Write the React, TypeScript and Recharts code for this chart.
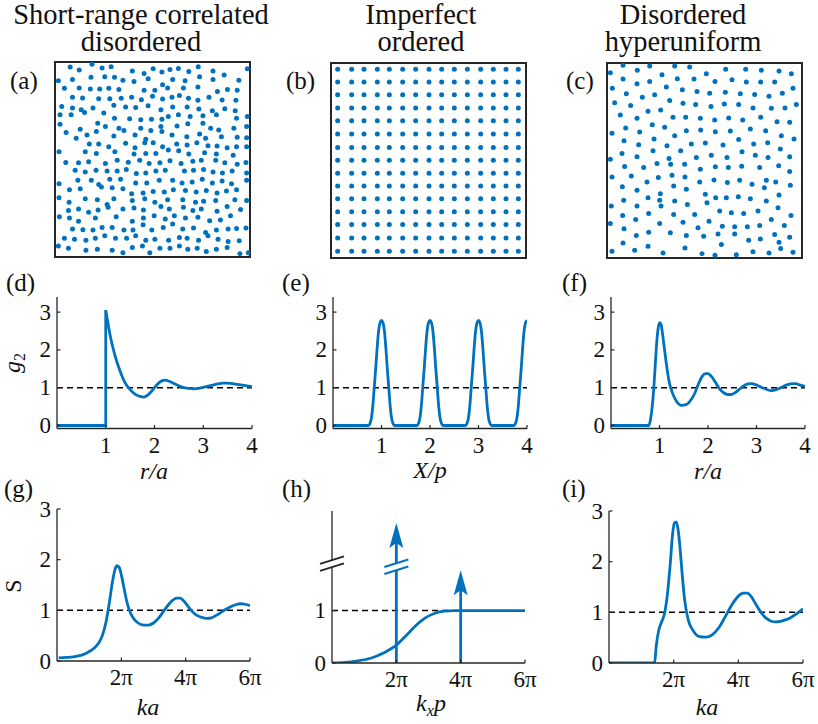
import React from "react";
import {
	Line,
	LineChart,
	ReferenceArea,
	ReferenceDot,
	ReferenceLine,
	Scatter,
	ScatterChart,
	XAxis,
	YAxis,
} from "recharts";

const BLUE = "#0072BD";
const INK = "#262626";
const FONT = "Liberation Serif, DejaVu Serif, serif";

// (a) short-range correlated disordered pattern, sample plane 0..58
const aPoints = [
	[4.5, 56.5], [7.2, 55.6], [11.0, 57.3], [14.0, 56.2], [16.7, 56.6], [23.0, 55.3], [26.5, 54.6], [29.2, 56.0],
	[31.8, 55.0], [34.2, 55.8], [36.7, 56.1], [39.8, 55.2], [42.6, 56.6], [47.0, 55.3], [50.3, 54.1], [57.2, 56.0],
	[1.0, 52.4], [5.2, 52.8], [10.7, 53.5], [14.8, 53.6], [17.7, 53.5], [20.2, 52.6], [23.5, 52.2], [27.7, 53.0],
	[32.0, 51.2], [35.0, 52.8], [38.7, 52.4], [43.0, 53.6], [47.0, 52.8], [54.7, 52.6],
	[2.8, 50.2], [7.2, 50.3], [10.5, 50.0], [13.3, 50.0], [16.0, 50.2], [19.0, 49.8], [26.5, 49.6], [29.7, 49.6],
	[33.5, 50.3], [38.2, 50.3], [42.5, 50.6], [48.3, 49.2], [51.3, 49.8], [54.2, 49.6],
	[5.2, 47.5], [8.2, 47.3], [13.0, 47.1], [16.3, 47.1], [19.7, 47.2], [22.8, 47.5], [25.7, 46.8], [29.0, 47.8],
	[32.0, 47.0], [34.8, 47.5], [37.0, 48.0], [39.7, 47.2], [42.5, 46.6], [45.8, 47.5], [49.7, 46.7], [53.8, 46.6],
	[2.0, 44.8], [5.2, 44.3], [7.8, 43.8], [11.3, 44.3], [17.5, 45.1], [21.0, 44.6], [24.0, 44.5], [27.7, 45.0],
	[31.5, 43.8], [35.0, 44.6], [39.3, 44.6], [42.8, 44.0], [46.8, 43.5], [50.5, 44.1], [53.6, 43.5],
	[1.5, 42.3], [4.8, 42.3], [8.8, 43.0], [14.5, 42.8], [17.7, 41.3], [22.2, 41.1], [25.5, 40.8], [28.7, 41.0],
	[31.8, 41.0], [33.7, 41.8], [36.7, 42.3], [40.2, 41.8], [44.0, 42.0], [48.0, 42.3], [54.0, 41.3], [57.2, 41.8],
	[1.5, 39.5], [7.5, 38.0], [12.7, 39.8], [15.0, 38.8], [19.0, 38.3], [25.5, 38.3], [28.5, 37.6], [31.5, 38.8],
	[36.3, 39.0], [39.5, 39.6], [44.0, 39.8], [46.3, 38.3], [48.7, 37.8], [53.2, 38.3], [57.0, 38.8],
	[3.3, 37.0], [6.3, 35.3], [9.5, 36.3], [12.3, 37.3], [17.5, 36.0], [20.5, 37.6], [23.8, 36.3], [27.0, 35.0],
	[31.8, 37.3], [34.8, 36.3], [39.2, 35.8], [43.0, 36.6], [44.8, 35.3], [49.5, 35.8], [54.2, 35.6], [57.0, 35.5],
	[10.2, 33.6], [13.0, 33.6], [16.0, 32.8], [21.0, 33.8], [23.8, 32.5], [26.7, 34.0], [29.2, 34.0], [32.0, 32.8],
	[36.2, 33.6], [39.3, 33.3], [42.2, 34.0], [45.5, 33.1], [48.2, 33.0], [51.2, 32.5], [54.0, 32.8], [57.0, 32.8],
	[1.2, 31.3], [9.0, 31.3], [12.3, 30.8], [17.8, 31.3], [23.5, 30.6], [27.0, 30.8], [30.0, 30.8], [33.7, 31.8],
	[36.8, 31.6], [39.8, 30.6], [44.5, 31.0], [48.0, 30.6], [53.0, 30.3],
	[3.2, 28.1], [7.0, 28.0], [10.0, 28.3], [15.0, 27.8], [18.5, 28.8], [21.8, 28.2], [25.2, 28.8], [28.0, 27.8],
	[31.2, 28.0], [34.2, 28.6], [37.5, 27.8], [41.0, 28.5], [43.5, 28.8], [47.8, 28.8], [50.5, 28.0], [54.2, 27.6],
	[56.8, 28.1],
	[6.0, 25.8], [9.0, 25.3], [12.2, 25.8], [15.5, 25.6], [18.5, 25.6], [21.2, 26.0], [24.2, 24.8], [27.0, 25.0],
	[30.0, 25.6], [32.8, 25.8], [38.5, 25.6], [41.2, 25.8], [44.2, 26.0], [47.0, 25.3], [49.8, 25.0], [52.7, 25.6],
	[57.0, 25.0],
	[1.2, 21.8], [6.8, 22.8], [10.8, 22.8], [13.0, 21.6], [16.3, 23.1], [19.5, 23.1], [24.0, 22.0], [27.3, 22.0],
	[31.0, 22.8], [35.0, 22.8], [37.8, 22.0], [40.8, 22.3], [43.8, 23.1], [46.8, 22.0], [49.7, 22.6], [52.5, 21.8],
	[57.0, 22.8],
	[4.3, 20.0], [7.5, 20.3], [13.8, 20.8], [17.0, 20.6], [20.2, 20.3], [22.8, 18.8], [26.2, 19.0], [29.2, 19.5],
	[32.5, 19.3], [35.2, 20.0], [38.8, 19.8], [42.0, 19.3], [45.0, 19.8], [48.2, 19.0], [51.0, 19.6], [54.0, 20.0],
	[1.2, 17.6], [4.2, 16.3], [9.0, 17.3], [12.6, 17.0], [15.5, 15.6], [17.5, 17.3], [23.0, 16.8], [26.7, 17.3],
	[29.7, 16.3], [33.5, 17.0], [38.0, 17.0], [41.8, 16.3], [44.2, 16.6], [47.8, 16.8], [53.5, 17.0], [57.0, 16.8],
	[4.0, 13.8], [7.0, 14.3], [10.0, 13.3], [12.8, 14.0], [15.8, 14.8], [20.2, 14.3], [23.5, 14.6], [26.3, 14.0],
	[31.5, 15.0], [34.0, 14.3], [38.2, 14.8], [41.0, 13.8], [43.5, 14.3], [48.2, 13.6], [51.2, 15.0], [55.2, 14.1],
	[1.3, 12.0], [4.3, 11.6], [7.0, 10.6], [12.0, 11.6], [18.2, 12.0], [23.0, 10.6], [26.3, 11.6], [29.5, 12.3],
	[32.8, 11.3], [35.5, 12.3], [38.8, 11.6], [42.5, 11.8], [46.0, 10.8], [49.2, 11.0], [52.2, 12.3],
	[5.2, 8.3], [8.3, 8.1], [11.3, 8.0], [14.0, 8.8], [17.0, 8.8], [20.5, 8.0], [23.2, 8.0], [26.2, 9.6],
	[28.8, 8.0], [32.2, 8.8], [35.0, 9.8], [38.0, 8.3], [41.2, 8.6], [44.8, 7.3], [48.0, 8.0], [51.5, 8.3],
	[54.0, 8.5], [56.8, 8.6],
	[2.8, 5.6], [5.8, 5.3], [9.2, 5.0], [12.0, 5.6], [14.8, 6.3], [18.0, 5.6], [21.3, 5.6], [24.0, 6.3],
	[27.0, 5.0], [29.7, 5.3], [33.8, 5.0], [37.0, 5.8], [39.3, 5.6], [42.7, 5.0], [45.5, 6.3], [48.5, 5.3],
	[51.5, 4.6], [54.8, 4.8],
	[1.0, 3.3], [4.0, 2.6], [9.2, 2.0], [12.6, 2.3], [17.0, 2.0], [20.2, 1.3], [23.0, 2.8], [26.0, 3.3],
	[28.2, 1.3], [31.2, 2.6], [34.2, 2.6], [37.0, 3.3], [39.5, 2.3], [42.3, 2.6], [45.0, 1.6], [48.0, 2.3],
	[51.2, 2.8], [55.0, 1.0], [57.5, 1.3],
];

// (b) imperfect square lattice: site columns and rows
const bColumns = [2.0, 6.2, 9.9, 13.9, 17.5, 21.5, 25.4, 29.4, 33.2, 37.0, 40.9, 44.9, 48.7, 52.5, 56.2];
const bRows = [56.3, 52.5, 48.7, 44.8, 41.0, 37.0, 33.0, 29.2, 25.3, 21.5, 17.7, 13.8, 10.0, 6.0, 2.0];

// (c) disordered hyperuniform pattern
const cPoints = [
	[1.0, 55.3], [4.8, 57.5], [9.1, 56.0], [12.8, 57.3], [16.5, 54.7], [20.3, 57.3], [24.8, 57.0], [29.8, 55.0],
	[35.6, 56.3], [41.6, 56.3], [46.3, 56.0], [51.6, 55.8], [55.3, 55.0],
	[4.8, 53.4], [9.0, 52.0], [12.8, 52.7], [21.1, 53.5], [26.1, 53.4], [32.4, 52.7], [37.5, 53.2], [41.8, 52.5],
	[46.1, 52.5], [50.3, 52.5],
	[1.6, 50.7], [5.8, 49.0], [10.6, 48.0], [14.3, 48.7], [17.8, 51.0], [22.6, 50.2], [27.0, 49.7], [30.8, 49.2],
	[35.5, 49.5], [40.0, 49.0], [44.3, 48.8], [48.6, 48.3], [52.6, 49.2], [55.8, 50.7],
	[2.3, 46.3], [7.1, 45.5], [12.3, 43.8], [16.1, 44.2], [18.8, 47.0], [22.8, 46.2], [26.6, 45.8], [31.2, 45.2],
	[35.2, 46.0], [39.5, 45.8], [43.8, 44.8], [49.3, 44.7], [53.4, 44.8], [56.8, 45.8],
	[4.0, 42.7], [9.0, 41.7], [13.6, 39.8], [19.8, 42.0], [23.6, 42.0], [28.0, 41.7], [32.3, 41.2], [36.5, 41.8],
	[40.7, 41.2], [46.1, 42.0], [51.0, 40.7], [54.8, 40.5],
	[1.5, 37.2], [5.6, 38.8], [9.8, 37.6], [14.1, 35.5], [17.3, 39.0], [20.3, 36.5], [23.8, 38.0], [28.1, 38.2],
	[32.5, 37.7], [37.0, 37.9], [43.0, 38.5], [47.6, 38.0], [52.3, 36.5], [56.1, 35.5],
	[5.1, 35.0], [9.5, 33.8], [13.8, 32.0], [18.0, 33.5], [25.3, 34.0], [29.5, 34.3], [34.8, 33.7], [39.5, 35.4],
	[44.0, 34.0], [48.2, 34.4], [52.0, 32.5],
	[1.0, 29.5], [4.5, 31.2], [9.0, 30.2], [18.6, 29.7], [22.1, 32.0], [26.8, 30.0], [31.3, 30.7], [36.0, 30.0],
	[40.5, 31.7], [44.5, 30.7], [48.3, 30.0], [54.8, 30.2],
	[5.3, 27.3], [11.0, 27.0], [15.0, 28.2], [19.1, 28.0], [23.3, 28.0], [28.0, 26.5], [32.5, 27.2], [36.4, 27.0],
	[40.4, 27.4], [45.8, 27.0], [51.5, 27.5], [54.8, 25.8],
	[1.5, 24.2], [7.3, 24.5], [12.0, 22.7], [15.4, 24.0], [19.5, 24.7], [23.4, 24.2], [27.8, 22.7], [32.1, 23.3],
	[36.1, 22.5], [39.8, 23.2], [43.5, 22.0], [47.8, 23.2], [50.6, 22.7],
	[4.6, 21.3], [9.0, 20.2], [12.3, 18.0], [16.0, 19.2], [20.0, 21.5], [23.8, 20.5], [29.5, 19.0], [32.6, 18.0],
	[35.8, 18.0], [39.4, 18.3], [43.0, 17.7], [47.2, 21.0], [51.6, 18.8], [55.0, 21.7],
	[5.0, 17.2], [9.0, 15.5], [15.8, 17.2], [20.3, 17.0], [24.1, 16.0], [30.0, 16.5], [33.8, 14.0], [37.3, 13.5],
	[41.0, 13.3], [45.3, 14.0], [47.8, 17.0], [51.3, 15.0],
	[1.3, 15.5], [4.7, 12.7], [12.5, 13.3], [16.2, 15.5], [20.0, 13.0], [26.3, 13.0], [55.2, 12.7],
	[1.0, 10.3], [5.1, 8.7], [8.6, 11.5], [15.8, 10.3], [22.8, 10.7], [27.3, 9.0], [30.6, 11.0], [34.6, 9.5],
	[38.3, 9.3], [42.1, 9.3], [45.8, 9.7], [49.3, 11.5], [53.2, 9.7],
	[8.8, 6.7], [12.5, 7.7], [19.0, 7.5], [23.8, 6.7], [29.0, 6.5], [33.3, 7.2], [38.3, 7.2], [42.5, 5.3],
	[46.0, 5.7], [50.3, 7.0], [54.8, 6.2],
	[4.8, 4.5], [12.3, 3.5], [34.3, 4.0], [51.6, 4.7],
	[1.5, 2.0], [8.3, 2.3], [16.8, 1.5], [23.4, 3.0], [28.5, 1.3], [32.4, 0.8], [38.8, 1.0], [43.8, 1.9],
	[48.6, 1.5], [52.1, 2.8], [55.8, 1.7],
];

// (d) g2(r) of the short-range correlated pattern
const dStepR = [0, 1, 1];
const dStepG = [0, 0, 3.05];
const dTailR = [1, 1.04, 1.08, 1.13, 1.19, 1.25, 1.32, 1.4, 1.5, 1.6, 1.7, 1.78, 1.86, 1.95, 2.05, 2.15, 2.22, 2.3,
	2.4, 2.5, 2.6, 2.7, 2.8, 2.9, 3.0, 3.1, 3.2, 3.3, 3.4, 3.5, 3.6, 3.7, 3.8, 3.9, 4.0];
const dTailG = [3.05, 2.75, 2.45, 2.15, 1.85, 1.6, 1.35, 1.12, 0.95, 0.83, 0.77, 0.75, 0.8, 0.92, 1.08, 1.18, 1.2, 1.17,
	1.11, 1.05, 1.0, 0.98, 0.97, 0.98, 1.01, 1.04, 1.07, 1.1, 1.12, 1.12, 1.11, 1.09, 1.07, 1.05, 1.03];

// (e) g2(X) of the imperfect lattice
const eX = [0,
	0.73, 0.78, 0.82, 0.85, 0.88, 0.91, 0.94, 0.97, 1.0, 1.03, 1.06, 1.09, 1.12, 1.15, 1.18, 1.22, 1.27,
	1.73, 1.78, 1.82, 1.85, 1.88, 1.91, 1.94, 1.97, 2.0, 2.03, 2.06, 2.09, 2.12, 2.15, 2.18, 2.22, 2.27,
	2.73, 2.78, 2.82, 2.85, 2.88, 2.91, 2.94, 2.97, 3.0, 3.03, 3.06, 3.09, 3.12, 3.15, 3.18, 3.22, 3.27,
	3.73, 3.78, 3.82, 3.85, 3.88, 3.91, 3.94, 3.97, 4.0];
const eG = [0,
	0, 0.12, 0.5, 1.0, 1.5, 2.05, 2.5, 2.72, 2.78, 2.72, 2.5, 2.05, 1.5, 1.0, 0.5, 0.12, 0,
	0, 0.12, 0.5, 1.0, 1.5, 2.05, 2.5, 2.72, 2.78, 2.72, 2.5, 2.05, 1.5, 1.0, 0.5, 0.12, 0,
	0, 0.12, 0.5, 1.0, 1.5, 2.05, 2.5, 2.72, 2.78, 2.72, 2.5, 2.05, 1.5, 1.0, 0.5, 0.12, 0,
	0, 0.12, 0.5, 1.0, 1.5, 2.05, 2.5, 2.72, 2.78];

// (f) g2(r) of the hyperuniform pattern
const fR = [0, 0.78, 0.82, 0.85, 0.88, 0.91, 0.94, 0.97, 1.0, 1.03, 1.06, 1.1, 1.15, 1.2, 1.27, 1.35, 1.45, 1.55,
	1.65, 1.73, 1.81, 1.88, 1.95, 2.0, 2.07, 2.15, 2.23, 2.32, 2.4, 2.48, 2.56, 2.65, 2.74, 2.82, 2.9, 3.0, 3.1,
	3.2, 3.3, 3.4, 3.5, 3.6, 3.7, 3.8, 3.9, 4.0];
const fG = [0, 0, 0.2, 0.5, 0.95, 1.55, 2.15, 2.55, 2.72, 2.68, 2.45, 2.05, 1.55, 1.15, 0.85, 0.64, 0.53, 0.55,
	0.68, 0.86, 1.12, 1.3, 1.37, 1.37, 1.3, 1.15, 0.98, 0.87, 0.82, 0.82, 0.87, 0.96, 1.05, 1.1, 1.11, 1.07, 1.01,
	0.96, 0.92, 0.95, 1.0, 1.06, 1.1, 1.11, 1.07, 1.03];

// (g) S(k), k in units of pi/a
const gK = [0.05, 0.3, 0.6, 0.9, 1.15, 1.3, 1.42, 1.52, 1.62, 1.72, 1.8, 1.87, 1.94, 2.0, 2.08, 2.16, 2.25, 2.35,
	2.5, 2.7, 2.85, 3.0, 3.15, 3.3, 3.45, 3.6, 3.72, 3.82, 3.92, 4.05, 4.2, 4.35, 4.5, 4.65, 4.8, 4.95, 5.1, 5.25,
	5.4, 5.55, 5.7, 5.85, 6.0];
const gS = [0.06, 0.07, 0.09, 0.15, 0.25, 0.36, 0.52, 0.76, 1.12, 1.55, 1.8, 1.88, 1.84, 1.7, 1.45, 1.2, 1.0, 0.87,
	0.76, 0.71, 0.71, 0.75, 0.84, 0.97, 1.1, 1.2, 1.24, 1.24, 1.2, 1.1, 0.98, 0.9, 0.86, 0.84, 0.85, 0.9, 0.96, 1.02,
	1.07, 1.11, 1.13, 1.12, 1.09];

// (h) S(kx), diffuse part plus Bragg peaks
const hK = [0, 0.4, 0.8, 1.2, 1.6, 2.0, 2.3, 2.6, 2.9, 3.2, 3.5, 3.8, 4.1, 6.0];
const hS = [0, 0.01, 0.04, 0.09, 0.19, 0.34, 0.52, 0.71, 0.86, 0.95, 0.99, 1.0, 1.0, 1.0];
const hPeakK = [2, 4];
const hPeakTop = [2.67, 1.77];
const hBreakS = 1.85;

// (i) S(k) of the hyperuniform pattern
const iK = [0, 1.41, 1.46, 1.54, 1.62, 1.72, 1.82, 1.9, 1.96, 2.02, 2.08, 2.14, 2.2, 2.27, 2.34, 2.45, 2.6, 2.8,
	3.0, 3.2, 3.4, 3.6, 3.8, 4.0, 4.15, 4.28, 4.4, 4.55, 4.7, 4.85, 5.0, 5.15, 5.3, 5.45, 5.6, 5.75, 5.9, 6.0];
const iS = [0, 0, 0.33, 0.65, 0.8, 0.98, 1.44, 2.0, 2.5, 2.76, 2.78, 2.62, 2.25, 1.7, 1.24, 0.85, 0.64, 0.52,
	0.51, 0.56, 0.7, 0.92, 1.15, 1.32, 1.38, 1.38, 1.31, 1.15, 1.0, 0.89, 0.83, 0.81, 0.82, 0.85, 0.89, 0.95, 1.02, 1.07];

const rTicks = [1, 2, 3, 4];
const gTicks = [0, 1, 2, 3];
const kTicks = [2, 4, 6];
const kTickLabels = ["2π", "4π", "6π"];

const titles = [
	{ x: 141, lines: ["Short-range correlated", "disordered"] },
	{ x: 421, lines: ["Imperfect", "ordered"] },
	{ x: 683, lines: ["Disordered", "hyperuniform"] },
];

type Pt = { x: number; y: number };
const zip = (xs: number[], ys: number[]): Pt[] => xs.map((x, i) => ({ x, y: ys[i] }));
const toPts = (arr: number[][]): Pt[] => arr.map(([x, y]) => ({ x, y }));
const lattice: Pt[] = bRows.flatMap((y) => bColumns.map((x) => ({ x, y })));

const ML = 48;
const MR = 14;
const MT = 16;
const MB = 36;
const TICK_FS = 23;

const serif = { fontFamily: FONT };

const xTick = (fmt: (v: number) => string) => (p: any) => (
	<g>
		<line x1={p.x} x2={p.x} y1={p.y} y2={p.y - 3.5} stroke={INK} strokeWidth={1.2} />
		<text x={p.x} y={p.y + 24} textAnchor="middle" style={serif} fontSize={TICK_FS} fill="#111">
			{fmt(p.payload.value)}
		</text>
	</g>
);

const yTick = (p: any) => (
	<g>
		<line x1={p.x} x2={p.x + 3.5} y1={p.y} y2={p.y} stroke={INK} strokeWidth={1.2} />
		<text x={p.x - 6} y={p.y + 7.5} textAnchor="end" style={serif} fontSize={TICK_FS} fill="#111">
			{p.payload.value}
		</text>
	</g>
);

interface LinePanelProps {
	left: number;
	top: number;
	width: number;
	height: number;
	xDomain: [number, number];
	yDomain: [number, number];
	xTicks: number[];
	yTicks: number[];
	xFmt: (v: number) => string;
	children: React.ReactNode;
}

const LinePanel = ({ left, top, width, height, xDomain, yDomain, xTicks, yTicks, xFmt, children }: LinePanelProps) => (
	<div style={{ position: "absolute", left: left - ML, top: top - MT }}>
		<LineChart width={ML + width + MR} height={MT + height + MB} margin={{ top: MT, right: MR, bottom: 0, left: 0 }}>
			<XAxis
				type="number"
				dataKey="x"
				domain={xDomain}
				ticks={xTicks}
				interval={0}
				allowDataOverflow
				height={MB}
				tickSize={0}
				tickMargin={0}
				tickLine={false}
				axisLine={{ stroke: INK, strokeWidth: 1.3 }}
				tick={xTick(xFmt)}
			/>
			<YAxis
				type="number"
				dataKey="y"
				domain={yDomain}
				ticks={yTicks}
				interval={0}
				allowDataOverflow
				width={ML}
				tickSize={0}
				tickMargin={0}
				tickLine={false}
				axisLine={{ stroke: INK, strokeWidth: 1.3 }}
				tick={yTick}
			/>
			{children}
		</LineChart>
	</div>
);

const DotPanel = ({ left, top, size, span, points }: { left: number; top: number; size: number; span: [number, number]; points: Pt[] }) => {
	const pad = 3;
	return (
		<div style={{ position: "absolute", left: left - pad, top: top - pad }}>
			<ScatterChart width={size + 2 * pad} height={size + 2 * pad} margin={{ top: pad, right: pad, bottom: pad, left: pad }}>
				<XAxis type="number" dataKey="x" domain={[0, span[0]]} hide allowDataOverflow />
				<YAxis type="number" dataKey="y" domain={[0, span[1]]} hide allowDataOverflow />
				<Scatter
					data={points}
					fill={BLUE}
					isAnimationActive={false}
					shape={(p: any) => <circle cx={p.cx} cy={p.cy} r={2.5} fill={BLUE} />}
				/>
				<ReferenceArea x1={0} x2={span[0]} y1={0} y2={span[1]} fill="none" fillOpacity={0} stroke={INK} strokeWidth={2} ifOverflow="visible" />
			</ScatterChart>
		</div>
	);
};

const dashed = <ReferenceLine y={1} stroke="#000" strokeWidth={1.5} strokeDasharray="6 4" />;

const curve = (data: Pt[], key: string, type: "monotone" | "linear" = "monotone") => (
	<Line key={key} data={data} dataKey="y" type={type} stroke={BLUE} strokeWidth={2.8} dot={false} isAnimationActive={false} />
);

// upward arrow head with a notched base, tip at (cx, cy)
const arrowHead = (p: any) => (
	<path d={`M${p.cx},${p.cy} L${p.cx + 7},${p.cy + 25} L${p.cx},${p.cy + 20} L${p.cx - 7},${p.cy + 25} Z`} fill={BLUE} />
);

// axis break: white gap between two slanted strokes
const breakMark = (color: string) => (p: any) => (
	<g>
		<path d={`M${p.cx - 11},${p.cy + 1} L${p.cx + 11},${p.cy - 6} L${p.cx + 11},${p.cy + 1} L${p.cx - 11},${p.cy + 8} Z`} fill="#fff" />
		<line x1={p.cx - 12} y1={p.cy + 1} x2={p.cx + 12} y2={p.cy - 6.5} stroke={color} strokeWidth={2} />
		<line x1={p.cx - 12} y1={p.cy + 8} x2={p.cx + 12} y2={p.cy + 0.5} stroke={color} strokeWidth={2} />
	</g>
);

const num = (v: number) => String(v);
const piFmt = (v: number) => kTickLabels[kTicks.indexOf(v)] ?? "";

export default function App() {
	return (
		<div style={{ position: "absolute", left: 0, top: 0, width: 818, height: 724, background: "#fff" }}>
			<DotPanel left={55} top={62} size={195} span={[58, 58]} points={toPts(aPoints)} />
			<DotPanel left={331} top={63} size={195} span={[58.5, 58.2]} points={lattice} />
			<DotPanel left={607} top={63} size={195} span={[58.5, 58.2]} points={toPts(cPoints)} />

			<LinePanel left={57} top={297} width={195} height={131.5} xDomain={[0, 4]} yDomain={[-0.08, 3.4]} xTicks={rTicks} yTicks={gTicks} xFmt={num}>
				{dashed}
				{curve(zip(dStepR, dStepG), "d1", "linear")}
				{curve(zip(dTailR, dTailG), "d2")}
			</LinePanel>
			<LinePanel left={333} top={297} width={194} height={131.5} xDomain={[0, 4]} yDomain={[-0.08, 3.4]} xTicks={rTicks} yTicks={gTicks} xFmt={num}>
				{dashed}
				{curve(zip(eX, eG), "e")}
			</LinePanel>
			<LinePanel left={611} top={297} width={194} height={131.5} xDomain={[0, 4]} yDomain={[-0.08, 3.4]} xTicks={rTicks} yTicks={gTicks} xFmt={num}>
				{dashed}
				{curve(zip(fR, fG), "f")}
			</LinePanel>

			<LinePanel left={57} top={509} width={193} height={152} xDomain={[0, 6]} yDomain={[0, 3]} xTicks={kTicks} yTicks={gTicks} xFmt={piFmt}>
				{dashed}
				{curve(zip(gK, gS), "g")}
			</LinePanel>
			<LinePanel left={332} top={511} width={193} height={152} xDomain={[0, 6]} yDomain={[0, 2.9]} xTicks={kTicks} yTicks={[0, 1]} xFmt={piFmt}>
				<ReferenceLine segment={[{ x: 0, y: 1 }, { x: 3.7, y: 1 }]} stroke="#000" strokeWidth={1.5} strokeDasharray="6 4" />
				{curve(zip(hK, hS), "h")}
				{hPeakK.map((k, i) => (
					<ReferenceLine key={`s${k}`} segment={[{ x: k, y: 0 }, { x: k, y: hPeakTop[i] - 0.3 }]} stroke={BLUE} strokeWidth={2.8} />
				))}
				{hPeakK.map((k, i) => (
					<ReferenceDot key={`a${k}`} x={k} y={hPeakTop[i]} r={0} shape={arrowHead} />
				))}
				<ReferenceDot x={hPeakK[0]} y={hBreakS} r={0} shape={breakMark(BLUE)} />
				<ReferenceDot x={0} y={hBreakS + 0.06} r={0} shape={breakMark(INK)} />
			</LinePanel>
			<LinePanel left={609} top={511} width={194} height={152} xDomain={[0, 6]} yDomain={[0, 3]} xTicks={kTicks} yTicks={gTicks} xFmt={piFmt}>
				{dashed}
				{curve(zip(iK, iS), "i")}
			</LinePanel>

			<svg width={818} height={724} style={{ position: "absolute", left: 0, top: 0, pointerEvents: "none", ...serif }} fill="#111">
				{titles.map((t) => (
					<g key={t.x} fontSize={28.5} textAnchor="middle">
						<text x={t.x} y={24}>{t.lines[0]}</text>
						<text x={t.x} y={51}>{t.lines[1]}</text>
					</g>
				))}

				<g fontSize={25}>
					<text x={10} y={89}>(a)</text>
					<text x={286} y={89}>(b)</text>
					<text x={566} y={89}>(c)</text>
					<text x={6} y={291}>(d)</text>
					<text x={282} y={291}>(e)</text>
					<text x={562} y={291}>(f)</text>
					<text x={4} y={497}>(g)</text>
					<text x={282} y={497}>(h)</text>
					<text x={562} y={497}>(i)</text>
				</g>

				<g fontSize={24} textAnchor="middle">
					<text x={154} y={479} fontStyle="italic">r/a</text>
					<text x={430} y={478} fontStyle="italic">X/p</text>
					<text x={708} y={479} fontStyle="italic">r/a</text>
					<text x={148} y={715} fontStyle="italic">ka</text>
					<text x={431} y={711} fontStyle="italic">
						k<tspan fontSize={16} dy={5}>x</tspan><tspan dy={-5}>p</tspan>
					</text>
					<text x={707} y={715} fontStyle="italic">ka</text>
					<text transform="translate(20,363) rotate(-90)" fontStyle="italic">
						g<tspan fontSize={16} fontStyle="normal" dy={5}>2</tspan>
					</text>
					<text transform="translate(21,586) rotate(-90)">S</text>
				</g>
			</svg>
		</div>
	);
}
